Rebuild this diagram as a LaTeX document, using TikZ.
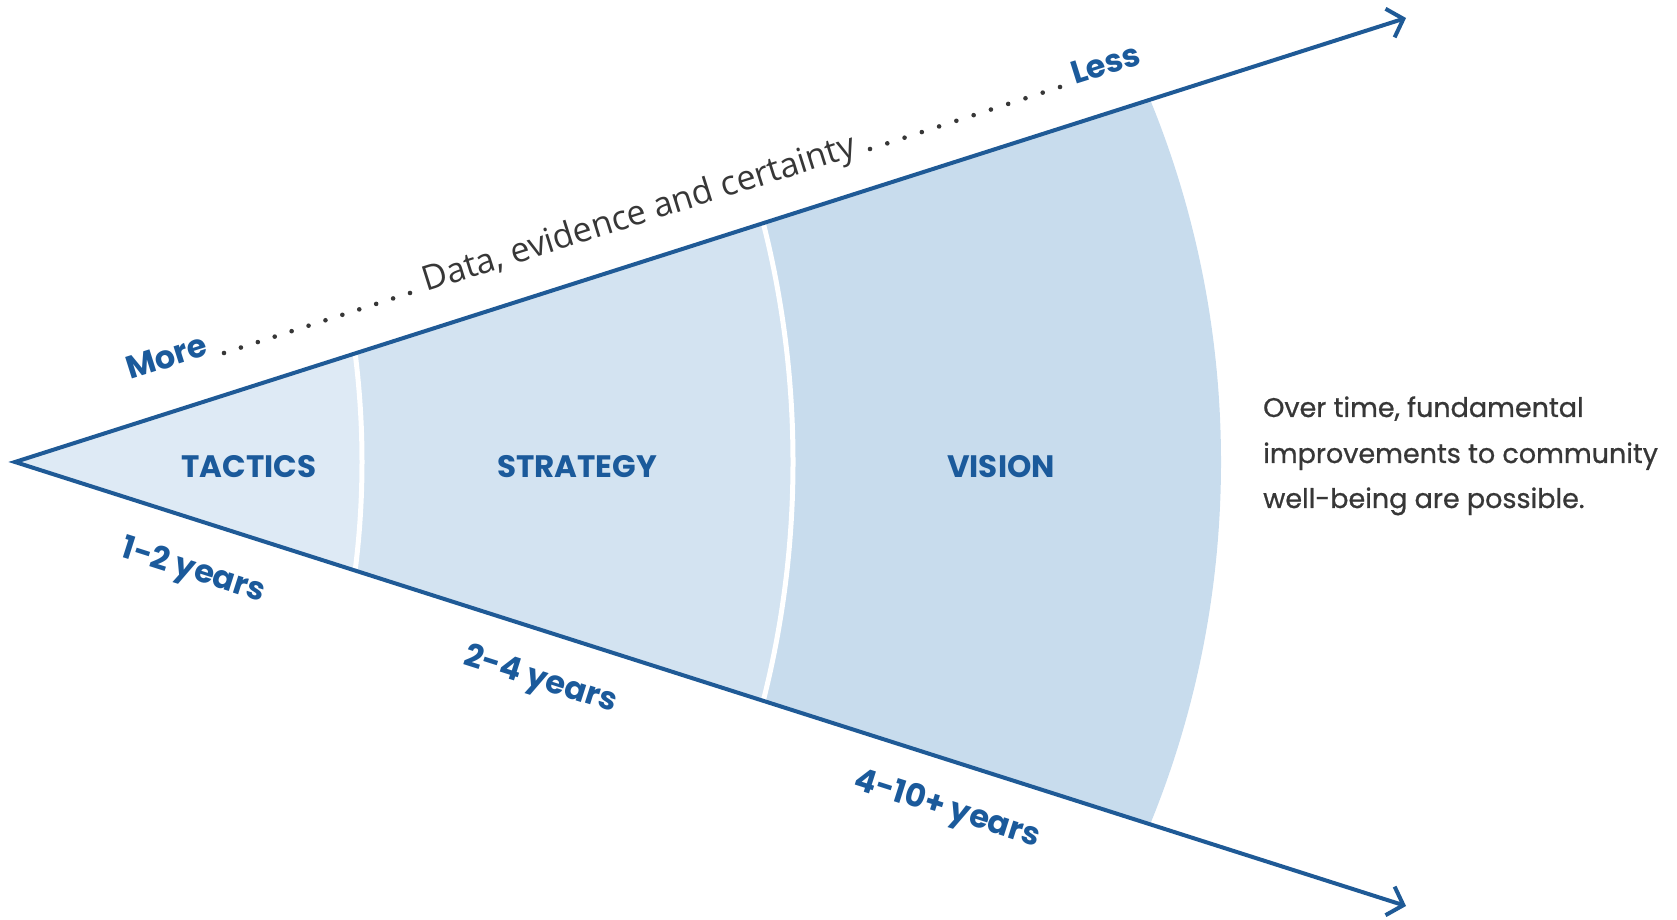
\documentclass[tikz,border=0pt]{standalone}
\usepackage{fontspec}
\setmainfont{Poppins}
\newfontfamily\datafont{Open Sans}
\newfontfamily\notefont{Poppins}[FakeBold=0.8]
\usetikzlibrary{arrows.meta,calc}
\definecolor{lineblue}{RGB}{31,90,150}
\definecolor{labelblue}{RGB}{27,90,155}
\definecolor{tacfill}{RGB}{222,234,245}
\definecolor{strfill}{RGB}{211,227,241}
\definecolor{visfill}{RGB}{200,220,237}
\definecolor{graytext}{RGB}{55,55,55}
\begin{document}
\begin{tikzpicture}[x=1pt,y=1pt,
  edge/.style={draw=lineblue, line width=4pt, line join=miter,
    {Straight Barb[length=14pt,width=30pt]}-{Straight Barb[length=14pt,width=30pt]}},
  region/.style={font=\fontsize{31}{31}\selectfont\bfseries, text=labelblue},
  yearlbl/.style={font=\fontsize{32}{32}\selectfont\bfseries, text=labelblue, rotate=-17.66},
  toplbl/.style={rotate=17.5, anchor=base west, inner sep=0pt},
  sep/.style={draw=white, line width=5pt},
  notetext/.style={anchor=base west, inner sep=0pt, text=graytext, font=\notefont\fontsize{27}{27}\selectfont}
]
\useasboundingbox (0,0) rectangle (1677,920);
\coordinate (apex) at (15,458);
\coordinate (tip1) at (1406,902);
\coordinate (tip2) at (1406,14);

\begin{scope}
  \clip (apex) -- (tip1) -- (tip2) -- cycle;
  \fill[visfill] (263,458) circle[radius=958];
  \fill[strfill] (-174,458) circle[radius=967];
  \fill[tacfill] (-490,458) circle[radius=852];
  \draw[sep] (-174,458) circle[radius=967];
  \draw[sep] (-490,458) circle[radius=852];
\end{scope}

\draw[edge] (tip1) -- (apex) -- (tip2);

\node[region] (tac) at (249,453) {TACTICS};
\node[region] (str) at (577,453) {STRATEGY};
\node[region] (vis) at (1001,453) {VISION};

\node[yearlbl] (y1) at (193,348) {1-2 years};
\node[yearlbl] (y2) at (540,239) {2-4 years};
\node[yearlbl] (y3) at (947,110) {4-10+ years};

\node[toplbl, text=labelblue, font=\fontsize{32}{32}\selectfont\bfseries] (more) at (130,540) {More};
\node[toplbl, text=graytext, font=\datafont\fontsize{34.3}{34.3}\selectfont] (data) at (426,628) {Data, evidence and certainty};
\node[toplbl, text=labelblue, font=\fontsize{32}{32}\selectfont\bfseries] (less) at (1075,835) {Less};

\foreach \i in {0,...,11} {
  \fill[graytext] ($(224,567)!\i/11!(410,627)$) circle[radius=2.3];
  \fill[graytext] ($(870,771)!\i/11!(1060,833)$) circle[radius=2.3];
}

\node[notetext] (n1) at (1263,503) {Over time, fundamental};
\node[notetext] (n2) at (1263,457) {improvements to community};
\node[notetext] (n3) at (1263,412) {well-being are possible.};
\end{tikzpicture}
\end{document}
